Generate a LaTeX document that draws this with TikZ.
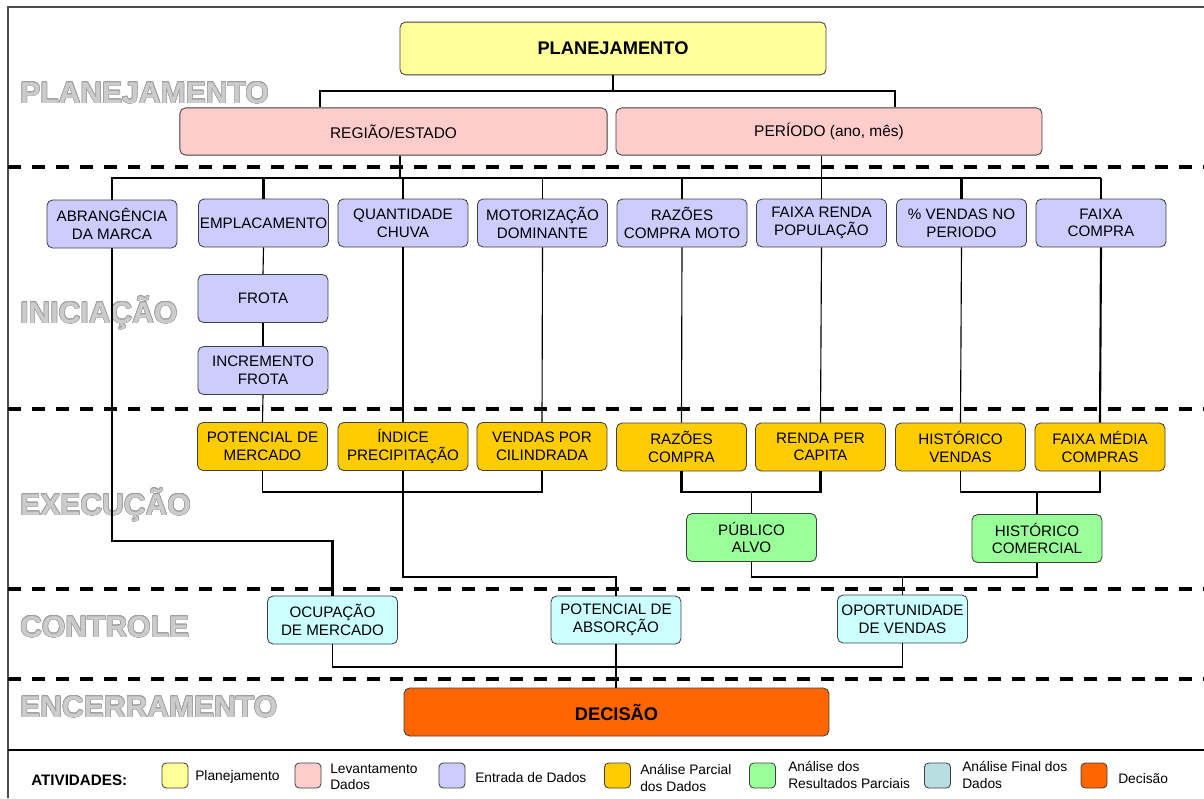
\documentclass[tikz,border=0pt]{standalone}
\usepackage{fontspec}
\setmainfont{Liberation Sans}
\usepackage[copies]{contour}
\contourlength{0.4pt}
\definecolor{planamarelo}{HTML}{FFFF99}
\definecolor{levrosa}{HTML}{FFCCCC}
\definecolor{entrada}{HTML}{CCCCFF}
\definecolor{parcial}{HTML}{FFCC00}
\definecolor{resultado}{HTML}{99FF99}
\definecolor{final}{HTML}{CCFFFF}
\definecolor{finalleg}{RGB}{185,222,226}
\definecolor{decisao}{HTML}{FF6600}

\begin{document}
\begin{tikzpicture}[x=0.025cm,y=-0.025cm,
  box/.style={draw=black!75,line width=0.6pt,rounded corners=4pt,align=center,inner sep=1pt,
    minimum width=3.25cm,minimum height=1.2cm,font=\fontsize{10.8}{12.5}\selectfont},
  entradabox/.style={box,fill=entrada},
  parcialbox/.style={box,fill=parcial},
  resultbox/.style={box,fill=resultado},
  finalbox/.style={box,fill=final},
  conn/.style={line width=0.8pt},
  connb/.style={line width=1.5pt},
  faseline/.style={line width=2.2pt,dash pattern=on 9.2pt off 7.8pt},
  fase/.style={anchor=base west,inner sep=0pt,text=gray!40,
    font=\fontsize{21.4}{24}\selectfont\bfseries},
  swatch/.style={draw=black!75,line width=0.6pt,rounded corners=3pt,minimum width=0.65cm,minimum height=0.625cm,inner sep=0pt},
  legtxt/.style={anchor=west,align=left,inner sep=0pt,font=\fontsize{9.8}{11.8}\selectfont}]
  \useasboundingbox (0,0) rectangle (1204,798);

  % moldura e fases
  \draw[line width=1.4pt,black!70] (8,798) -- (8,7) -- (1204,7);
  \draw[line width=1.6pt] (8,750) -- (1204,750);
  \foreach \y in {167,409,589,679}
    \draw[faseline] (8,\y) -- (1204,\y);
  \node[fase] (fplan) at (20,103) {\contour{gray!75}{PLANEJAMENTO}};
  \node[fase] (finic) at (20,323) {\contour{gray!75}{INICIAÇÃO}};
  \node[fase] (fexec) at (20,515) {\contour{gray!75}{EXECUÇÃO}};
  \node[fase] (fcont) at (20,637) {\contour{gray!75}{CONTROLE}};
  \node[fase] (fence) at (20,717) {\contour{gray!75}{ENCERRAMENTO}};

  % planejamento
  \node[box,fill=planamarelo,minimum width=10.65cm,minimum height=1.32cm,font=\fontsize{13}{15}\selectfont\bfseries] (plan) at (613,48.5) {PLANEJAMENTO};
  \node[box,fill=levrosa,minimum width=10.68cm,minimum height=1.18cm,font=\fontsize{11}{13}\selectfont] (reg) at (393.5,131.5) {REGIÃO/ESTADO};
  \node[box,fill=levrosa,minimum width=10.65cm,minimum height=1.18cm,font=\fontsize{11}{13}\selectfont] (per) at (829,131.5) {PERÍODO (ano, mês)};

  % iniciacao
  \node[entradabox] (abr) at (112,224) {ABRANGÊNCIA\\DA MARCA};
  \node[entradabox] (emp) at (263.5,223) {EMPLACAMENTO};
  \node[entradabox] (qua) at (403,223) {QUANTIDADE\\CHUVA};
  \node[entradabox] (mot) at (542.5,223) {MOTORIZAÇÃO\\DOMINANTE};
  \node[entradabox] (raz) at (682,223) {RAZÕES\\COMPRA MOTO};
  \node[entradabox] (fai) at (821.5,223) {FAIXA RENDA\\POPULAÇÃO};
  \node[entradabox] (ven) at (961.5,223) {\% VENDAS NO\\PERIODO};
  \node[entradabox] (fco) at (1101,223) {FAIXA\\COMPRA};
  \node[entradabox] (fro) at (263,298.5) {FROTA};
  \node[entradabox] (inc) at (263,370.5) {INCREMENTO\\FROTA};

  % execucao
  \node[parcialbox] (pot) at (262.5,446.5) {POTENCIAL DE\\MERCADO};
  \node[parcialbox] (ind) at (403,446.5) {ÍNDICE\\PRECIPITAÇÃO};
  \node[parcialbox] (vpc) at (542,446.5) {VENDAS POR\\CILINDRADA};
  \node[parcialbox] (rzc) at (681.5,447) {RAZÕES\\COMPRA};
  \node[parcialbox] (rpc) at (820.5,447) {RENDA PER\\CAPITA};
  \node[parcialbox] (hv) at (960.5,447) {HISTÓRICO\\VENDAS};
  \node[parcialbox] (fmc) at (1100,447) {FAIXA MÉDIA\\COMPRAS};
  \node[resultbox] (pub) at (751.5,537.5) {PÚBLICO\\ALVO};
  \node[resultbox] (hc) at (1037,538.5) {HISTÓRICO\\COMERCIAL};

  % controle e encerramento
  \node[finalbox] (ocu) at (332.5,620) {OCUPAÇÃO\\DE MERCADO};
  \node[finalbox] (pab) at (616,620) {POTENCIAL DE\\ABSORÇÃO};
  \node[finalbox] (opo) at (902.5,619) {OPORTUNIDADE\\DE VENDAS};
  \node[box,fill=decisao,minimum width=10.62cm,font=\fontsize{13}{15}\selectfont\bfseries] (dec) at (616.5,712) {DECISÃO};

  % ligacoes
  \coordinate (j1) at (320,91);
  \coordinate (j2) at (895,91);
  \coordinate (bus) at (400,178);
  \coordinate (ja) at (0,492);
  \coordinate (je) at (0,541);
  \coordinate (jb) at (0,577);
  \coordinate (jc) at (0,667);
  \draw[connb] (plan.south) -- (plan.south |- j1);
  \draw[connb] (reg.north -| j1) -- (j1) -- (j2) -- (per.north -| j2);
  \draw[connb] (bus |- reg.south) -- (bus);
  \draw[conn] (per.south -| fai) -- (fai.north);
  \draw[connb] (abr.north) -- (abr.north |- bus) -- (fco.north |- bus);
  \draw[conn] (fco.north |- bus) -- (fco.north);
  \foreach \n in {emp,qua,ven}
    \draw[connb] (\n.north) -- (\n.north |- bus);
  \foreach \n in {mot,raz}
    \draw[conn] (\n.north) -- (\n.north |- bus);

  \draw[connb] (abr.south) |- (je -| ocu) -- (ocu.north);
  \draw[conn] (emp.south) -- (fro.north);
  \draw[connb] (fro.south) -- (inc.north);
  \draw[conn] (inc.south) -- (pot.north);
  \draw[conn] (qua.south) -- (ind.north);
  \draw[conn] (mot.south) -- (vpc.north);
  \draw[conn] (raz.south) -- (rzc.north);
  \draw[conn] (fai.south) -- (rpc.north);
  \draw[conn] (ven.south) -- (hv.north);
  \draw[connb] (fco.south) -- (fmc.north);

  \draw[conn] (pot.south) -- (pot.south |- ja) -- (vpc.south |- ja) -- (vpc.south);
  \draw[conn] (ind.south) -- (ind.south |- jb) -- (pab.north |- jb) -- (pab.north);
  \draw[connb] (rzc.south) -- (rzc.south |- ja) -- (rpc.south |- ja) -- (rpc.south);
  \draw[conn] (pub.north) -- (pub.north |- ja);
  \draw[conn] (hv.south) -- (hv.south |- ja) -- (fmc.south |- ja) -- (fmc.south);
  \draw[connb] (hc.north) -- (hc.north |- ja);
  \draw[conn] (pub.south) -- (pub.south |- jb) -- (hc.south |- jb) -- (hc.south);
  \draw[conn] (opo.north) -- (opo.north |- jb);
  \draw[conn] (ocu.south) -- (ocu.south |- jc) -- (opo.south |- jc) -- (opo.south);
  \draw[connb] (pab.south) -- (pab.south |- dec.north);

  % legenda
  \node[anchor=west,inner sep=0pt,font=\fontsize{10.8}{12}\selectfont\bfseries] (ativ) at (31,780) {ATIVIDADES:};
  \node[swatch,fill=planamarelo] (lg1) at (175,775.5) {};
  \node[legtxt] (lt1) at (195,777) {Planejamento};
  \node[swatch,fill=levrosa] (lg2) at (308,775.5) {};
  \node[legtxt] (lt2) at (330,777) {Levantamento\\Dados};
  \node[swatch,fill=entrada] (lg3) at (452,775.5) {};
  \node[legtxt] (lt3) at (475,778) {Entrada de Dados};
  \node[swatch,fill=parcial] (lg4) at (617.5,775.5) {};
  \node[legtxt] (lt4) at (640,778) {Análise Parcial\\dos Dados};
  \node[swatch,fill=resultado] (lg5) at (762.5,775.5) {};
  \node[legtxt] (lt5) at (788,775) {Análise dos\\Resultados Parciais};
  \node[swatch,fill=finalleg] (lg6) at (937.5,775.5) {};
  \node[legtxt] (lt6) at (962,775) {Análise Final dos\\Dados};
  \node[swatch,fill=decisao] (lg7) at (1094,775.5) {};
  \node[legtxt] (lt7) at (1118,779) {Decisão};
\end{tikzpicture}
\end{document}
